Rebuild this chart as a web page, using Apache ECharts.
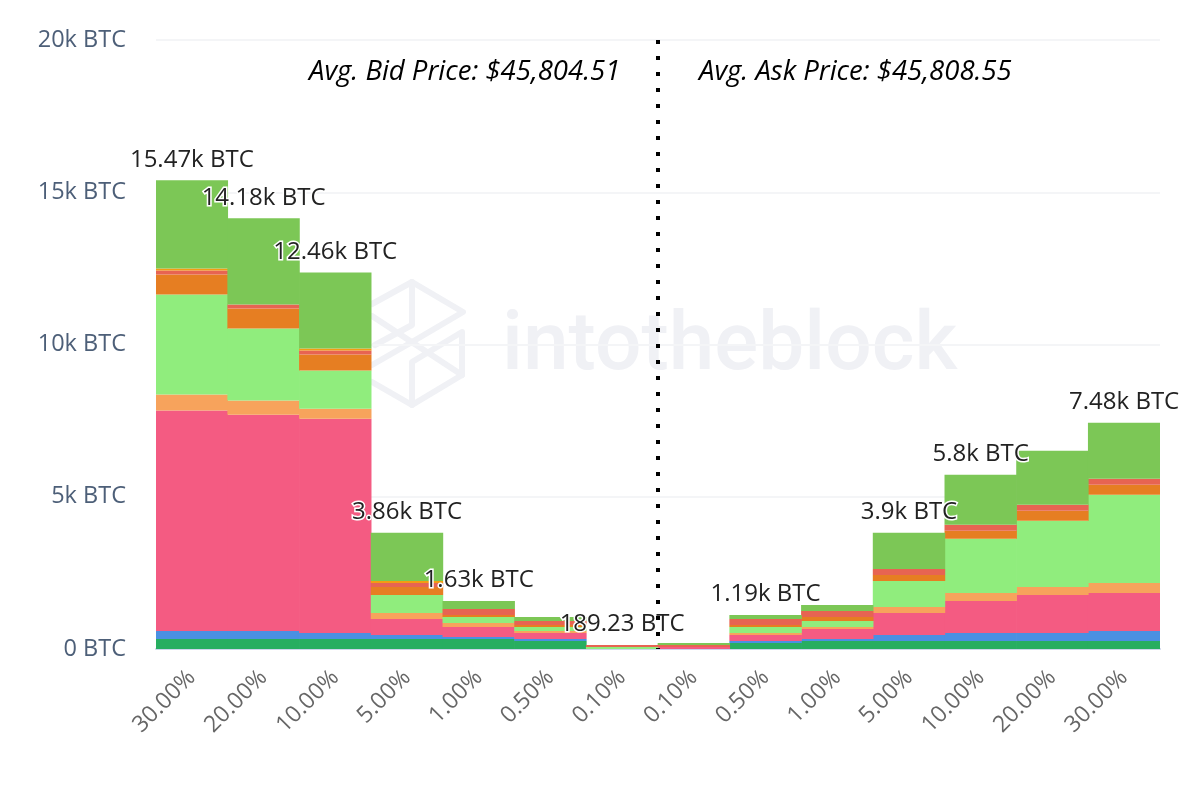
<!DOCTYPE html>
<html>
<head>
<meta charset="utf-8">
<title>BTC order book depth</title>
<script src="https://cdn.jsdelivr.net/npm/echarts@6/dist/echarts.min.js"></script>
<style>
    html, body { margin: 0; padding: 0; background: #fff; }
    #chart { width: 1200px; height: 800px; }
</style>
</head>
<body>
<div id="chart"></div>
<script>
const categories = ['30.00%', '20.00%', '10.00%', '5.00%', '1.00%', '0.50%', '0.10%', '0.10%', '0.50%', '1.00%', '5.00%', '10.00%', '20.00%', '30.00%'];

const darkGreen = [329, 329, 329, 329, 329, 263, 0, 0, 197, 263, 263, 263, 263, 263];
const blue = [263, 263, 197, 132, 66, 66, 0, 0, 66, 66, 197, 263, 263, 329];
const pink = [7237, 7105, 7039, 526, 329, 197, 0, 66, 197, 329, 724, 1053, 1250, 1250];
const lightOrange = [526, 461, 329, 197, 132, 66, 0, 0, 66, 66, 197, 263, 263, 329];
const lightGreen = [3289, 2368, 1250, 592, 197, 132, 66, 0, 197, 197, 855, 1776, 2171, 2895];
const orange = [658, 658, 526, 263, 66, 66, 0, 0, 66, 132, 197, 263, 329, 329];
const red = [132, 132, 132, 132, 197, 132, 66, 66, 197, 197, 197, 197, 197, 197];
const amber = [66, 0, 66, 66, 0, 0, 0, 0, 0, 0, 0, 0, 0, 0];
const green = [2895, 2829, 2500, 1579, 263, 132, 0, 66, 132, 197, 1184, 1645, 1776, 1842];

const totalLabels = ['15.47k BTC', '14.18k BTC', '12.46k BTC', '3.86k BTC', '1.63k BTC', '', '189.23 BTC', '', '1.19k BTC', '', '3.9k BTC', '5.8k BTC', '', '7.48k BTC'];

const stackSeries = [
    { name: 'Band 1', values: darkGreen, color: '#27ae60' },
    { name: 'Band 2', values: blue, color: '#4a90e2' },
    { name: 'Band 3', values: pink, color: '#f45b82' },
    { name: 'Band 4', values: lightOrange, color: '#f7a35c' },
    { name: 'Band 5', values: lightGreen, color: '#90ed7d' },
    { name: 'Band 6', values: orange, color: '#e67e22' },
    { name: 'Band 7', values: red, color: '#e76452' },
    { name: 'Band 8', values: amber, color: '#f39c12' },
    { name: 'Band 9', values: green, color: '#7cc756' }
];

const FONT = '"Open Sans", sans-serif';
const WATERMARK = '#f0f1f5';

const chart = echarts.init(document.getElementById('chart'));

const totals = categories.map((_, i) => stackSeries.reduce((sum, s) => sum + s.values[i], 0));

function logoLine(points) {
    return {
        type: 'polyline',
        silent: true,
        z: 0,
        shape: { points: points },
        style: { stroke: WATERMARK, lineWidth: 6, fill: null, lineJoin: 'round', lineCap: 'round' }
    };
}

const option = {
    animation: false,
    backgroundColor: '#fff',
    grid: { left: 156, right: 40, top: 40, bottom: 151, containLabel: false },
    xAxis: [
        {
            type: 'category',
            data: categories,
            axisLine: { lineStyle: { color: '#ccd6eb', width: 2 } },
            axisTick: { show: false },
            axisLabel: {
                interval: 0,
                rotate: 45,
                color: '#666666',
                fontFamily: FONT,
                fontSize: 23,
                margin: 25
            }
        },
        { type: 'value', min: 0, max: 14, show: false }
    ],
    yAxis: {
        type: 'value',
        min: 0,
        max: 20000,
        interval: 5000,
        axisLine: { show: false },
        axisTick: { show: false },
        splitLine: { lineStyle: { color: '#f4f5f7', width: 2 } },
        axisLabel: {
            color: '#4d5f78',
            fontFamily: FONT,
            fontSize: 23.5,
            margin: 30,
            padding: [9, 0, 0, 0],
            formatter: (v) => (v === 0 ? '0 BTC' : (v / 1000) + 'k BTC')
        }
    },
    graphic: [
        logoLine([[372, 304], [412, 282], [463, 312], [412, 342], [372, 365]]),
        logoLine([[412, 282], [412, 325], [375, 345]]),
        logoLine([[372, 316], [462, 375], [462, 332], [412, 362], [412, 405]]),
        logoLine([[372, 382], [412, 405], [462, 375]]),
        {
            type: 'text',
            silent: true,
            z: 0,
            x: 502,
            y: 348,
            style: {
                text: 'intotheblock',
                fill: WATERMARK,
                font: '500 82px Roboto, sans-serif',
                textVerticalAlign: 'middle'
            }
        },
        {
            type: 'text',
            x: 309,
            y: 72,
            z: 10,
            style: {
                text: 'Avg. Bid Price: $45,804.51',
                fill: '#000',
                font: 'italic 27.5px "Open Sans", sans-serif',
                textVerticalAlign: 'middle'
            }
        },
        {
            type: 'text',
            x: 699,
            y: 72,
            z: 10,
            style: {
                text: 'Avg. Ask Price: $45,808.55',
                fill: '#000',
                font: 'italic 27.5px "Open Sans", sans-serif',
                textVerticalAlign: 'middle'
            }
        }
    ],
    series: [
        ...stackSeries.map((s) => ({
            name: s.name,
            type: 'bar',
            stack: 'depth',
            // a bit wider than the 71.7px band so neighbours overlap and leave no seam
            barWidth: 72.4,
            data: s.values,
            itemStyle: { color: s.color }
        })),
        {
            // invisible points on top of each stack, they only carry the total label
            name: 'Total',
            type: 'scatter',
            symbolSize: 1,
            itemStyle: { color: 'transparent', opacity: 1 },
            z: 5,
            data: totals,
            label: {
                show: true,
                position: 'top',
                distance: 8,
                color: '#222',
                fontFamily: FONT,
                fontSize: 24,
                textBorderColor: '#fff',
                textBorderWidth: 3,
                formatter: (p) => totalLabels[p.dataIndex]
            },
            labelLayout: { hideOverlap: false }
        },
        {
            // dotted separator between bid and ask side
            name: 'Mid',
            type: 'line',
            xAxisIndex: 1,
            symbol: 'none',
            z: 6,
            data: [[7, 20000], [7, 0]],
            lineStyle: { color: '#000', width: 4, type: [4, 12] }
        }
    ]
};

chart.setOption(option);
</script>
</body>
</html>
